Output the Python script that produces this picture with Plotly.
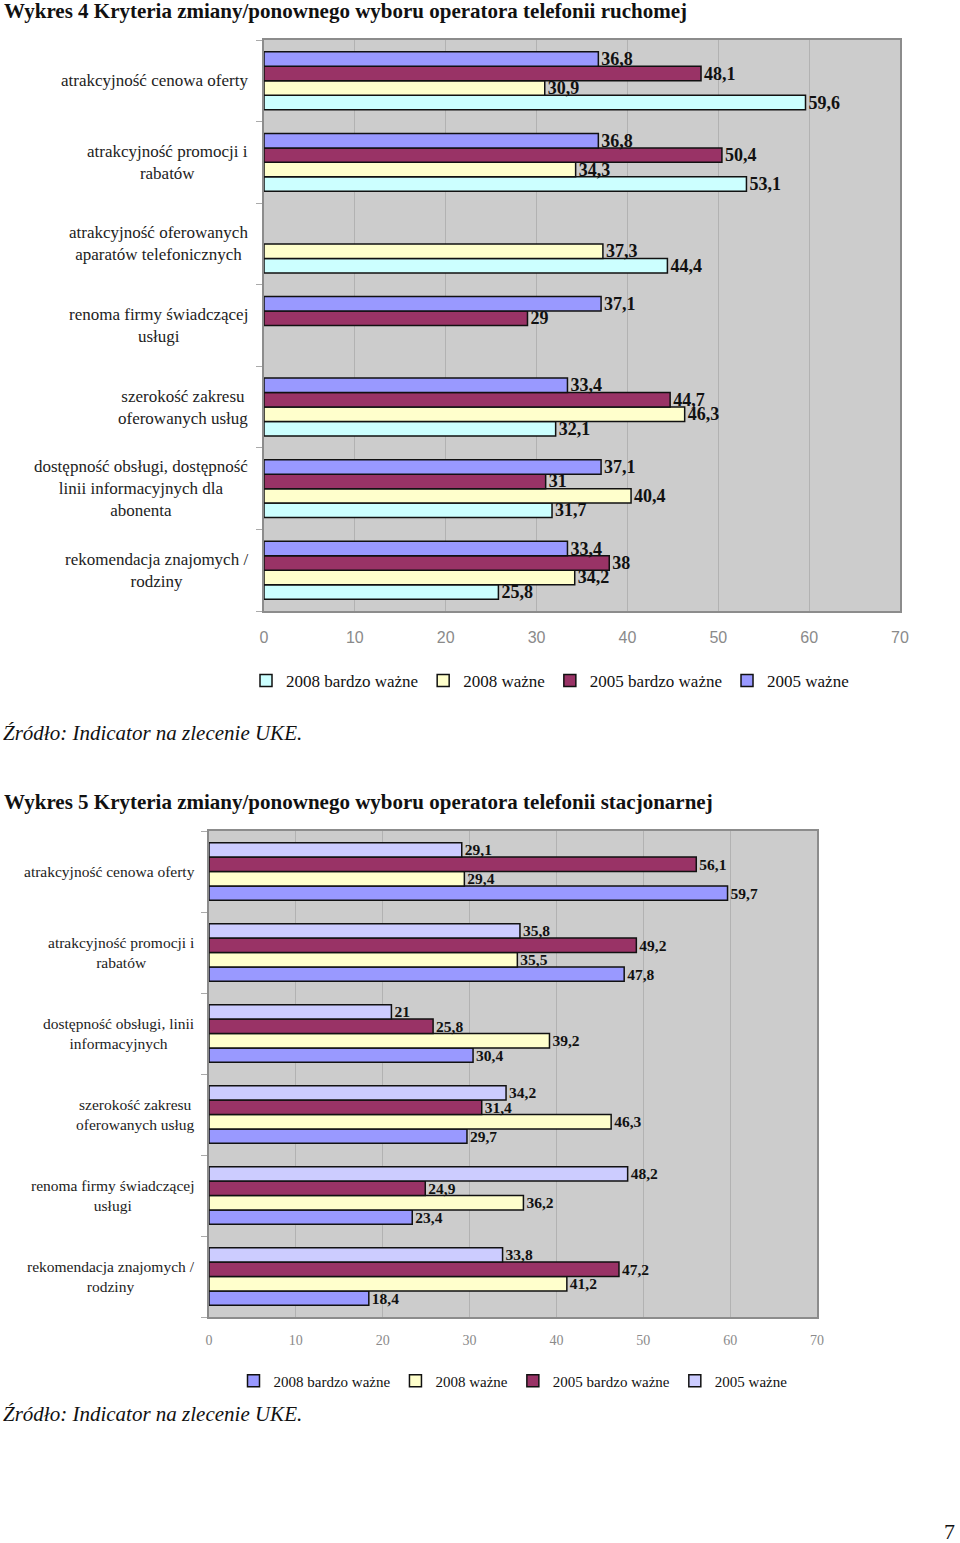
import plotly.graph_objects as go

W, H = 960, 1543

# ---------------- data: chart 1 (telefonia ruchoma) ----------------
cats1 = [
    "atrakcyjność cenowa oferty",
    "atrakcyjność promocji i\nrabatów",
    "atrakcyjność oferowanych\naparatów telefonicznych",
    "renoma firmy świadczącej\nusługi",
    "szerokość zakresu\noferowanych usług",
    "dostępność obsługi, dostępność\nlinii informacyjnych dla\nabonenta",
    "rekomendacja znajomych /\nrodziny",
]
c1_2008_bw = [59.6, 53.1, 44.4, None, 32.1, 31.7, 25.8]
c1_2008_w = [30.9, 34.3, 37.3, None, 46.3, 40.4, 34.2]
c1_2005_bw = [48.1, 50.4, None, 29, 44.7, 31, 38]
c1_2005_w = [36.8, 36.8, None, 37.1, 33.4, 37.1, 33.4]

# ---------------- data: chart 2 (telefonia stacjonarna) ----------------
cats2 = [
    "atrakcyjność cenowa oferty",
    "atrakcyjność promocji i\nrabatów",
    "dostępność obsługi, linii\ninformacyjnych",
    "szerokość zakresu\noferowanych usług",
    "renoma firmy świadczącej\nusługi",
    "rekomendacja znajomych /\nrodziny",
]
c2_2008_bw = [59.7, 47.8, 30.4, 29.7, 23.4, 18.4]
c2_2008_w = [29.4, 35.5, 39.2, 46.3, 36.2, 41.2]
c2_2005_bw = [56.1, 49.2, 25.8, 31.4, 24.9, 47.2]
c2_2005_w = [29.1, 35.8, 21, 34.2, 48.2, 33.8]

series_names = ["2008 bardzo ważne", "2008 ważne", "2005 bardzo ważne", "2005 ważne"]
xticks = [0, 10, 20, 30, 40, 50, 60, 70]

title1 = "Wykres 4 Kryteria zmiany/ponownego wyboru operatora telefonii ruchomej"
title2 = "Wykres 5 Kryteria zmiany/ponownego wyboru operatora telefonii stacjonarnej"
source = "Źródło: Indicator na zlecenie UKE."

colors1 = ["#CCFFFF", "#FFFFCC", "#993366", "#9999FF"]
colors2 = ["#9999FF", "#FFFFCC", "#993366", "#CCCCFF"]

SERIF = "Liberation Serif, Times New Roman, serif"
SANS = "Liberation Sans, Arial, sans-serif"


def px(y):
    return 1 - y / H


def key(c):
    return c.replace("\n", " ")


def fmt(v):
    return "" if v is None else f"{v:g}".replace(".", ",")


fig = go.Figure()

for vals, name, col in zip([c1_2008_bw, c1_2008_w, c1_2005_bw, c1_2005_w], series_names, colors1):
    fig.add_trace(go.Bar(
        y=[key(c) for c in cats1], x=vals, name=name, orientation="h",
        marker=dict(color=col, line=dict(color="#111111", width=1.5)),
        text=[fmt(v) for v in vals], textposition="outside", constraintext="none",
        cliponaxis=False,
        textfont=dict(family=SERIF, size=18, color="#111111", weight="bold"),
        xaxis="x", yaxis="y", legend="legend", hoverinfo="skip",
    ))

for vals, name, col in zip([c2_2008_bw, c2_2008_w, c2_2005_bw, c2_2005_w], series_names, colors2):
    fig.add_trace(go.Bar(
        y=[key(c) for c in cats2], x=vals, name=name, orientation="h",
        marker=dict(color=col, line=dict(color="#111111", width=1.5)),
        text=[fmt(v) for v in vals], textposition="outside", constraintext="none",
        cliponaxis=False,
        textfont=dict(family=SERIF, size=15.5, color="#111111", weight="bold"),
        xaxis="x2", yaxis="y2", legend="legend2", hoverinfo="skip",
    ))

axis_common = dict(showline=True, mirror=True, linecolor="#8c8c8c", linewidth=1.5)

annotations = []
for c in cats1:
    annotations.append(dict(
        text=c.replace("\n", "<br>"), x=250 / W, xref="paper", xanchor="right",
        y=key(c), yref="y", yanchor="middle", align="center", showarrow=False,
        font=dict(family=SERIF, size=17, color="#222222"),
    ))
for c in cats2:
    annotations.append(dict(
        text=c.replace("\n", "<br>"), x=197 / W, xref="paper", xanchor="right",
        y=key(c), yref="y2", yanchor="middle", align="center", showarrow=False,
        font=dict(family=SERIF, size=15.5, color="#222222"),
    ))

for txt, ypix in [(title1, 11), (title2, 802)]:
    annotations.append(dict(
        text="<b>" + txt + "</b>", x=2 / W, xref="paper", xanchor="left",
        y=px(ypix), yref="paper", yanchor="middle", showarrow=False,
        font=dict(family=SERIF, size=21, color="#111111"),
    ))
for ypix in [733, 1414]:
    annotations.append(dict(
        text="<i>" + source + "</i>", x=1 / W, xref="paper", xanchor="left",
        y=px(ypix), yref="paper", yanchor="middle", showarrow=False,
        font=dict(family=SERIF, size=21, color="#111111"),
    ))
annotations.append(dict(
    text="7", x=957 / W, xref="paper", xanchor="right",
    y=px(1531), yref="paper", yanchor="middle", showarrow=False,
    font=dict(family=SERIF, size=22, color="#111111"),
))

fig.update_layout(
    width=W, height=H, autosize=False,
    margin=dict(l=0, r=0, t=0, b=0, autoexpand=False),
    paper_bgcolor="white", plot_bgcolor="#CCCCCC",
    barmode="group", bargap=0.29, bargroupgap=0,
    showlegend=True,
    xaxis=dict(
        domain=[264 / W, 900 / W], anchor="y", range=[0, 70],
        tickvals=xticks, ticks="", showgrid=True, gridcolor="#B2B2B2", gridwidth=1,
        zeroline=False, ticklabelstandoff=11, automargin=False,
        tickfont=dict(family=SANS, size=16, color="#8a8a8a"), **axis_common,
    ),
    yaxis=dict(
        domain=[px(611), px(40)], anchor="x", type="category",
        categoryorder="array", categoryarray=[key(c) for c in cats1][::-1],
        showticklabels=False, ticks="outside", tickson="boundaries", ticklen=6,
        tickcolor="#aaaaaa", showgrid=False, automargin=False, **axis_common,
    ),
    xaxis2=dict(
        domain=[209 / W, 817 / W], anchor="y2", range=[0, 70],
        tickvals=xticks, ticks="", showgrid=True, gridcolor="#B2B2B2", gridwidth=1,
        zeroline=False, ticklabelstandoff=9, automargin=False,
        tickfont=dict(family=SERIF, size=14, color="#8a8a8a"), **axis_common,
    ),
    yaxis2=dict(
        domain=[px(1317), px(831)], anchor="x2", type="category",
        categoryorder="array", categoryarray=[key(c) for c in cats2][::-1],
        showticklabels=False, ticks="outside", tickson="boundaries", ticklen=6,
        tickcolor="#aaaaaa", showgrid=False, automargin=False, **axis_common,
    ),
    legend=dict(
        orientation="h", x=550 / W, xanchor="center", y=px(681), yanchor="middle",
        traceorder="normal", font=dict(family=SERIF, size=17, color="#111111"),
        bgcolor="rgba(0,0,0,0)", itemwidth=30,
    ),
    legend2=dict(
        orientation="h", x=513 / W, xanchor="center", y=px(1381), yanchor="middle",
        traceorder="normal", font=dict(family=SERIF, size=15, color="#111111"),
        bgcolor="rgba(0,0,0,0)", itemwidth=30,
    ),
    annotations=annotations,
)

fig.write_html(
    "out.html",
    config={"responsive": False, "displayModeBar": False},
    post_script="document.body.style.margin='0';document.body.style.padding='0';"
                "document.documentElement.style.overflow='hidden';"
                "document.body.style.overflow='hidden';",
)
